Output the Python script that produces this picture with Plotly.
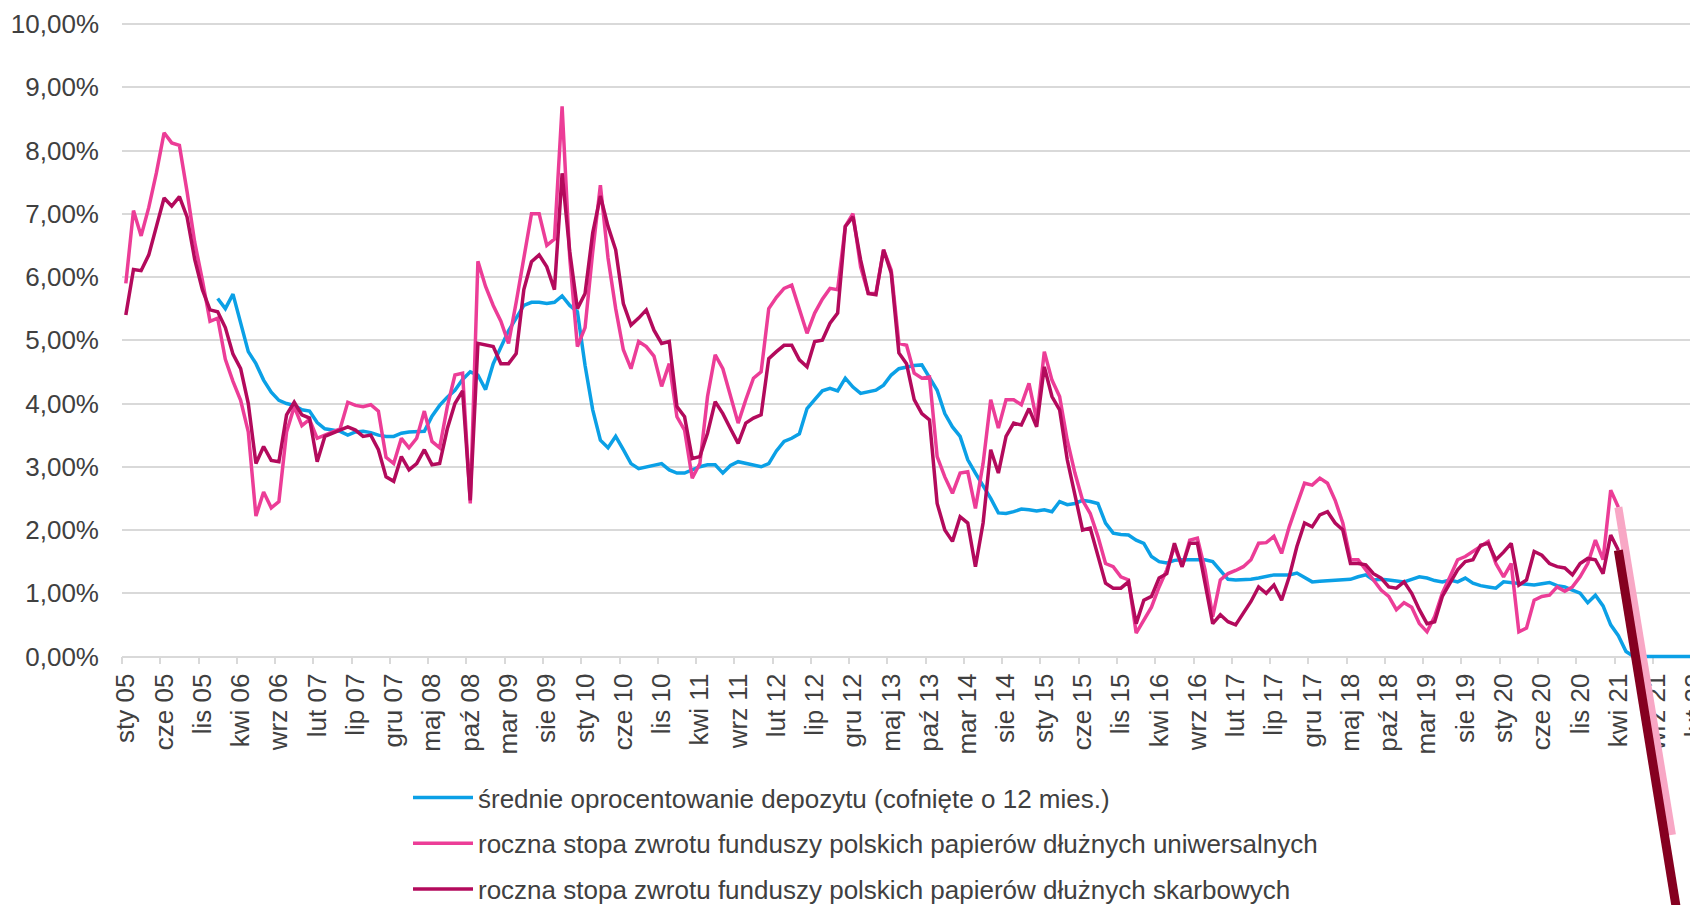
import plotly.graph_objects as go

# monthly values, index 0 = sty 05
uni = [
    5.90, 7.05, 6.65, 7.10, 7.65, 8.28, 8.12, 8.08, 7.35, 6.55, 5.95, 5.30,  # 2005
    5.35, 4.70, 4.35, 4.05, 3.55, 2.22, 2.60, 2.35, 2.45, 3.55, 3.95, 3.65,  # 2006
    3.75, 3.45, 3.50, 3.55, 3.60, 4.02, 3.97, 3.95, 3.98, 3.88, 3.15, 3.05,  # 2007
    3.45, 3.30, 3.45, 3.88, 3.40, 3.30, 3.95, 4.45, 4.48, 2.42, 6.25, 5.85,  # 2008
    5.55, 5.30, 4.95, 5.60, 6.30, 7.00, 7.00, 6.50, 6.60, 8.70, 6.30, 4.90,  # 2009
    5.20, 6.40, 7.45, 6.30, 5.50, 4.85, 4.55, 4.98, 4.90, 4.75, 4.27, 4.63,  # 2010
    3.79, 3.58, 2.82, 3.05, 4.11, 4.77, 4.55, 4.11, 3.69, 4.06, 4.40, 4.50,  # 2011
    5.50, 5.68, 5.82, 5.87, 5.48, 5.11, 5.43, 5.65, 5.82, 5.80, 6.80, 7.00,  # 2012
    6.16, 5.74, 5.74, 6.43, 6.11, 4.95, 4.92, 4.48, 4.40, 4.42, 3.16, 2.84,  # 2013
    2.58, 2.90, 2.92, 2.34, 3.05, 4.06, 3.61, 4.06, 4.06, 3.98, 4.32, 3.74,  # 2014
    4.82, 4.37, 4.11, 3.42, 2.90, 2.47, 2.26, 1.90, 1.47, 1.42, 1.26, 1.21,  # 2015
    0.37, 0.58, 0.78, 1.10, 1.37, 1.74, 1.42, 1.84, 1.87, 1.37, 0.63, 1.21,  # 2016
    1.31, 1.36, 1.42, 1.53, 1.79, 1.80, 1.90, 1.63, 2.05, 2.40, 2.74, 2.71,  # 2017
    2.82, 2.74, 2.47, 2.11, 1.53, 1.53, 1.37, 1.21, 1.05, 0.95, 0.74, 0.85,  # 2018
    0.78, 0.52, 0.39, 0.63, 1.00, 1.26, 1.53, 1.58, 1.66, 1.74, 1.82, 1.47,  # 2019
    1.26, 1.47, 0.39, 0.45, 0.89, 0.95, 0.97, 1.10, 1.03, 1.10, 1.26, 1.47,  # 2020
    1.84, 1.53, 2.63, 2.36,  # 2021
]

skarb = [
    5.40, 6.12, 6.10, 6.35, 6.80, 7.25, 7.12, 7.27, 6.95, 6.28, 5.80, 5.48,  # 2005
    5.45, 5.20, 4.78, 4.55, 4.00, 3.05, 3.32, 3.10, 3.08, 3.82, 4.02, 3.82,  # 2006
    3.77, 3.08, 3.48, 3.53, 3.58, 3.63, 3.58, 3.48, 3.50, 3.27, 2.84, 2.77,  # 2007
    3.16, 2.95, 3.05, 3.27, 3.03, 3.05, 3.60, 4.00, 4.20, 2.47, 4.95, 4.92,  # 2008
    4.90, 4.63, 4.63, 4.79, 5.80, 6.24, 6.35, 6.16, 5.80, 7.64, 6.40, 5.50,  # 2009
    5.74, 6.70, 7.28, 6.80, 6.43, 5.58, 5.24, 5.35, 5.48, 5.16, 4.95, 4.98,  # 2010
    3.95, 3.79, 3.13, 3.16, 3.53, 4.03, 3.84, 3.60, 3.37, 3.69, 3.77, 3.82,  # 2011
    4.71, 4.82, 4.92, 4.92, 4.69, 4.58, 4.98, 5.00, 5.27, 5.43, 6.80, 6.95,  # 2012
    6.27, 5.74, 5.72, 6.43, 6.06, 4.80, 4.63, 4.06, 3.84, 3.74, 2.42, 2.00,  # 2013
    1.82, 2.21, 2.11, 1.42, 2.11, 3.27, 2.90, 3.48, 3.69, 3.66, 3.92, 3.63,  # 2014
    4.58, 4.11, 3.90, 3.11, 2.53, 2.00, 2.03, 1.58, 1.16, 1.08, 1.08, 1.18,  # 2015
    0.52, 0.89, 0.95, 1.24, 1.31, 1.79, 1.42, 1.79, 1.79, 1.16, 0.52, 0.66,  # 2016
    0.55, 0.50, 0.68, 0.87, 1.10, 1.00, 1.13, 0.89, 1.26, 1.74, 2.11, 2.05,  # 2017
    2.24, 2.29, 2.11, 2.00, 1.47, 1.47, 1.45, 1.31, 1.24, 1.10, 1.08, 1.18,  # 2018
    1.00, 0.74, 0.52, 0.55, 0.95, 1.16, 1.37, 1.50, 1.53, 1.76, 1.79, 1.53,  # 2019
    1.65, 1.79, 1.13, 1.21, 1.66, 1.60, 1.47, 1.42, 1.40, 1.29, 1.47, 1.55,  # 2020
    1.53, 1.31, 1.92, 1.68,  # 2021
]

# deposit rate shifted by 12 months, starts at sty 06 (index 12)
depo_start = 12
depo = [
    5.66, 5.50, 5.73, 5.25, 4.82, 4.63, 4.37, 4.18, 4.05, 4.00, 3.97, 3.90,  # 2006
    3.88, 3.70, 3.60, 3.58, 3.56, 3.50, 3.55, 3.56, 3.54, 3.50, 3.48, 3.48,  # 2007
    3.53, 3.55, 3.56, 3.56, 3.80, 3.97, 4.10, 4.21, 4.38, 4.50, 4.45, 4.22,  # 2008
    4.63, 4.90, 5.15, 5.35, 5.55, 5.60, 5.60, 5.58, 5.60, 5.70, 5.55, 5.45,  # 2009
    4.60, 3.90, 3.42, 3.30, 3.48, 3.27, 3.05, 2.97, 3.00, 3.02, 3.05, 2.95,  # 2010
    2.90, 2.90, 2.95, 3.00, 3.03, 3.03, 2.90, 3.02, 3.08, 3.05, 3.02, 3.00,  # 2011
    3.05, 3.25, 3.40, 3.45, 3.52, 3.92, 4.06, 4.20, 4.24, 4.20, 4.40, 4.26,  # 2012
    4.16, 4.18, 4.21, 4.29, 4.45, 4.55, 4.58, 4.60, 4.61, 4.42, 4.21, 3.84,  # 2013
    3.63, 3.48, 3.11, 2.90, 2.70, 2.50, 2.27, 2.26, 2.29, 2.33, 2.32, 2.30,  # 2014
    2.32, 2.29, 2.45, 2.40, 2.42, 2.47, 2.45, 2.42, 2.11, 1.95, 1.93, 1.92,  # 2015
    1.84, 1.79, 1.58, 1.50, 1.48, 1.52, 1.53, 1.53, 1.53, 1.53, 1.50, 1.37,  # 2016
    1.22, 1.21, 1.21, 1.22, 1.24, 1.26, 1.29, 1.29, 1.29, 1.32, 1.25, 1.18,  # 2017
    1.19, 1.20, 1.20, 1.21, 1.22, 1.26, 1.29, 1.21, 1.22, 1.21, 1.20, 1.18,  # 2018
    1.22, 1.26, 1.24, 1.20, 1.18, 1.21, 1.18, 1.24, 1.16, 1.12, 1.10, 1.08,  # 2019
    1.18, 1.17, 1.15, 1.15, 1.13, 1.15, 1.17, 1.12, 1.10, 1.05, 1.00, 0.85,  # 2020
    0.97, 0.80, 0.50, 0.33, 0.08, 0.00, 0.00, 0.00, 0.00, 0.00, 0.00, 0.00,  # 2021
    0.00, 0.00, 0.00,  # 2022
]

# thick segments drawn from kwi 21 downwards
uni_tail_months = [195, 202]
uni_tail = [2.36, -2.82]
skarb_tail_months = [195, 203]
skarb_tail = [1.68, -4.30]

tick_labels = [
    "sty 05", "cze 05", "lis 05", "kwi 06", "wrz 06", "lut 07", "lip 07", "gru 07",
    "maj 08", "paź 08", "mar 09", "sie 09", "sty 10", "cze 10", "lis 10", "kwi 11",
    "wrz 11", "lut 12", "lip 12", "gru 12", "maj 13", "paź 13", "mar 14", "sie 14",
    "sty 15", "cze 15", "lis 15", "kwi 16", "wrz 16", "lut 17", "lip 17", "gru 17",
    "maj 18", "paź 18", "mar 19", "sie 19", "sty 20", "cze 20", "lis 20", "kwi 21",
    "wrz 21", "lut 22",
]
y_ticks = [0, 1, 2, 3, 4, 5, 6, 7, 8, 9, 10]
y_labels = ["0,00%", "1,00%", "2,00%", "3,00%", "4,00%", "5,00%",
            "6,00%", "7,00%", "8,00%", "9,00%", "10,00%"]

names = [
    "średnie oprocentowanie depozytu (cofnięte o 12 mies.)",
    "roczna stopa zwrotu funduszy polskich papierów dłużnych uniwersalnych",
    "roczna stopa zwrotu funduszy polskich papierów dłużnych skarbowych",
]

FONT = "Liberation Sans, Arial, sans-serif"
TEXT = "#404040"
GRID = "#d9d9d9"

fig = go.Figure()
fig.add_trace(go.Scatter(
    x=list(range(depo_start, depo_start + len(depo))), y=depo, mode="lines",
    name=names[0], legendgroup="a", line=dict(color="#0ba0e6", width=3.5)))
fig.add_trace(go.Scatter(
    x=list(range(len(uni))), y=uni, mode="lines",
    name=names[1], legendgroup="b", line=dict(color="#ec3d97", width=3.5)))
fig.add_trace(go.Scatter(
    x=list(range(len(skarb))), y=skarb, mode="lines",
    name=names[2], legendgroup="c", line=dict(color="#b30a5c", width=3.5)))
fig.add_trace(go.Scatter(
    x=uni_tail_months, y=uni_tail, mode="lines", showlegend=False,
    line=dict(color="#f8a7c5", width=8)))
fig.add_trace(go.Scatter(
    x=skarb_tail_months, y=skarb_tail, mode="lines", showlegend=False,
    line=dict(color="#850020", width=9)))

# page body adds an 8px margin, so the figure is 8px smaller than the window
W, H = 1690, 897
left = 114
px_month = 7.654
zero_px = 648.5
px_pct = 63.25

fig.update_layout(
    width=W, height=H,
    margin=dict(l=left, r=0, t=0, b=0, autoexpand=False),
    paper_bgcolor="white", plot_bgcolor="white",
    font=dict(family=FONT, size=26, color=TEXT),
    showlegend=True,
    legend=dict(
        x=(400 - left) / (W - left), xanchor="left",
        y=1 - 766 / H, yanchor="top",
        tracegroupgap=9, itemwidth=60,
        font=dict(family=FONT, size=26, color=TEXT),
        bgcolor="rgba(0,0,0,0)",
    ),
)
fig.update_xaxes(
    range=[-0.5, -0.5 + (W - left) / px_month],
    anchor="free", position=(H - zero_px) / H,
    automargin=False,
    tickmode="array",
    tickvals=[5 * k for k in range(len(tick_labels))],
    ticktext=tick_labels,
    tickangle=-90,
    ticks="",
    ticklabelstandoff=6,
    ticklabeloverflow="allow",
    tickfont=dict(family=FONT, size=26, color=TEXT),
    minor=dict(tickmode="array",
               tickvals=[5 * k - 0.5 for k in range(len(tick_labels))],
               ticks="outside", ticklen=7, tickcolor=GRID, tickwidth=1.5,
               showgrid=False),
    showline=True, linecolor=GRID, linewidth=1.5,
    showgrid=False, zeroline=False,
    layer="below traces",
)
fig.update_yaxes(
    range=[-(H - zero_px) / px_pct, zero_px / px_pct],
    automargin=False,
    tickmode="array", tickvals=y_ticks, ticktext=y_labels,
    ticks="", ticklabelstandoff=22,
    tickfont=dict(family=FONT, size=26, color=TEXT),
    showgrid=True, gridcolor=GRID, gridwidth=1.5,
    zeroline=False, showline=False,
)

fig.write_html("out.html")
